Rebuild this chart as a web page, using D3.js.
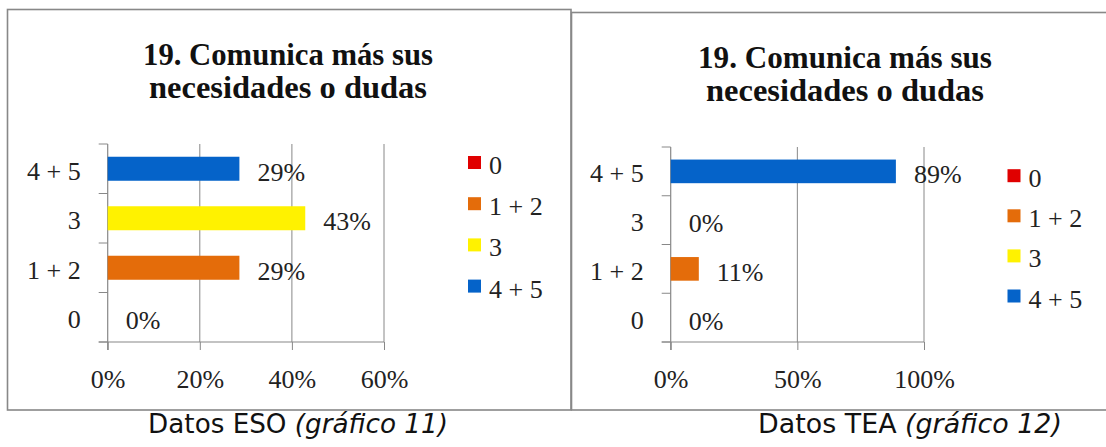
<!DOCTYPE html>
<html>
<head>
<meta charset="utf-8">
<script src="https://cdn.jsdelivr.net/npm/d3@7/dist/d3.min.js"></script>
<style>
  html, body { margin: 0; padding: 0; background: #fff; }
  svg { display: block; }
</style>
</head>
<body>
<svg id="chart" width="1106" height="447"></svg>
<script>
// ---- data ----
const categories = ["0", "1 + 2", "3", "4 + 5"];
const titleLines = ["19. Comunica más sus", "necesidades o dudas"];
const esoValues = [0, 28.6, 42.9, 28.6];
const esoLabels = ["0%", "29%", "43%", "29%"];
const esoTicks = [0, 20, 40, 60];
const teaValues = [0, 11.1, 0, 88.9];
const teaLabels = ["0%", "11%", "0%", "89%"];
const teaTicks = [0, 50, 100];
const seriesColors = ["#e00000", "#e46c0a", "#fff200", "#0563c9"];
const captionMain = ["Datos ESO ", "Datos TEA "];
const captionItalic = ["(gráfico 11)", "(gráfico 12)"];

const svg = d3.select("#chart");
const GRAY = "#888888";
const SERIF = "'Liberation Serif', serif";
const LBL_SIZE = 26;
const TITLE_FONT = "'Liberation Serif', serif";
const SANS = "'DejaVu Sans', sans-serif";

function fitFont(sel, target, start) {
  let fs = start;
  sel.attr("font-size", fs);
  const w = sel.node().getComputedTextLength();
  fs = fs * target / w;
  sel.attr("font-size", fs);
  return fs;
}

function panel(cfg) {
  const g = svg.append("g");
  // frame
  g.append("rect")
    .attr("x", cfg.box[0]).attr("y", cfg.box[1])
    .attr("width", cfg.box[2] - cfg.box[0]).attr("height", cfg.box[3] - cfg.box[1])
    .attr("fill", "none").attr("stroke", GRAY).attr("stroke-width", 1.6);

  // title
  titleLines.forEach((t, i) => {
    const tx = g.append("text")
      .attr("x", cfg.titleX).attr("y", cfg.titleY[i])
      .attr("text-anchor", "middle")
      .attr("font-family", TITLE_FONT).attr("font-weight", "bold")
      .attr("fill", "#111")
      .text(t);
    fitFont(tx, cfg.titleW[i], 30);
  });

  const x = d3.scaleLinear().domain([0, cfg.ticks[cfg.ticks.length - 1]]).range([cfg.x0, cfg.x1]);
  const y = d3.scaleBand().domain(categories.slice().reverse()).range([cfg.yTop, cfg.yBot]).paddingInner(0.515).paddingOuter(0.2575);
  const yb = d3.scaleBand().domain(categories.slice().reverse()).range([cfg.yTop, cfg.yBot]);

  // gridlines
  g.append("g").selectAll("line").data(cfg.ticks.filter(d => d > 0)).join("line")
    .attr("x1", d => x(d)).attr("x2", d => x(d))
    .attr("y1", cfg.yTop).attr("y2", cfg.yBot)
    .attr("stroke", GRAY).attr("stroke-width", 1);

  // x axis
  const xa = g.append("g").attr("transform", `translate(0,${cfg.yBot})`)
    .call(d3.axisBottom(x).tickValues(cfg.ticks).tickFormat(d => d + "%").tickSize(8).tickSizeOuter(0).tickPadding(22));
  xa.select(".domain").remove();
  xa.selectAll(".tick line").attr("stroke", GRAY);
  xa.selectAll("text").attr("font-family", SERIF).attr("font-size", LBL_SIZE).attr("fill", "#222").attr("dy", 0).attr("y", 46);
  g.append("line").attr("x1", cfg.x0 - 9).attr("x2", cfg.x1).attr("y1", cfg.yBot).attr("y2", cfg.yBot)
    .attr("stroke", GRAY).attr("stroke-width", 1.2);

  // y axis
  g.append("line").attr("x1", cfg.x0).attr("x2", cfg.x0).attr("y1", cfg.yTop).attr("y2", cfg.yBot + 8)
    .attr("stroke", GRAY).attr("stroke-width", 1.2);
  const bounds = categories.map(c => yb(c)).concat([cfg.yBot]);
  g.append("g").selectAll("line").data(bounds).join("line")
    .attr("x1", cfg.x0 - 9).attr("x2", cfg.x0).attr("y1", d => d).attr("y2", d => d)
    .attr("stroke", GRAY).attr("stroke-width", 1);
  g.append("g").selectAll("text").data(categories).join("text")
    .attr("x", cfg.x0 - 27).attr("y", d => yb(d) + yb.bandwidth() / 2 + 11)
    .attr("text-anchor", "end")
    .attr("font-family", SERIF).attr("font-size", LBL_SIZE).attr("fill", "#222")
    .text(d => d);

  // bars
  g.append("g").selectAll("rect").data(categories).join("rect")
    .attr("x", cfg.x0).attr("y", d => y(d))
    .attr("width", (d, i) => x(cfg.values[i]) - cfg.x0)
    .attr("height", y.bandwidth())
    .attr("fill", (d, i) => seriesColors[i]);

  // value labels
  g.append("g").selectAll("text").data(categories).join("text")
    .attr("x", (d, i) => x(cfg.values[i]) + 18)
    .attr("y", d => yb(d) + yb.bandwidth() / 2 + 12)
    .attr("font-family", SERIF).attr("font-size", LBL_SIZE).attr("fill", "#222")
    .text((d, i) => cfg.labels[i]);

  // legend
  const lg = g.append("g");
  categories.forEach((c, i) => {
    const cy = cfg.legY + i * cfg.legStep;
    lg.append("rect").attr("x", cfg.legX).attr("y", cy - 6.5).attr("width", 13).attr("height", 13)
      .attr("fill", seriesColors[i]);
    lg.append("text").attr("x", cfg.legX + 21).attr("y", cy + 11.5)
      .attr("font-family", SERIF).attr("font-size", LBL_SIZE).attr("fill", "#222")
      .text(c);
  });

  // caption
  const cap = svg.append("text")
    .attr("x", cfg.capX).attr("y", 433).attr("text-anchor", "middle")
    .attr("font-family", SANS).attr("font-size", 21).attr("fill", "#111");
  cap.append("tspan").text(cfg.capMain);
  cap.append("tspan").attr("font-style", "italic").text(cfg.capItalic);
  fitFont(cap, cfg.capW, 21);
}

panel({
  box: [7.5, 9.5, 571, 410],
  titleX: 288, titleY: [65, 98], titleW: [290, 278],
  x0: 107.7, x1: 384, yTop: 144, yBot: 342,
  ticks: esoTicks, values: esoValues, labels: esoLabels,
  legX: 468, legY: 162.5, legStep: 41.2,
  capX: 298, capW: 300, capMain: captionMain[0], capItalic: captionItalic[0]
});

panel({
  box: [571.5, 12.5, 1112, 410],
  titleX: 845, titleY: [68, 101], titleW: [294, 278],
  x0: 670.7, x1: 924, yTop: 147, yBot: 342,
  ticks: teaTicks, values: teaValues, labels: teaLabels,
  legX: 1007.5, legY: 175.7, legStep: 40.1,
  capX: 910, capW: 304, capMain: captionMain[1], capItalic: captionItalic[1]
});
</script>
</body>
</html>
